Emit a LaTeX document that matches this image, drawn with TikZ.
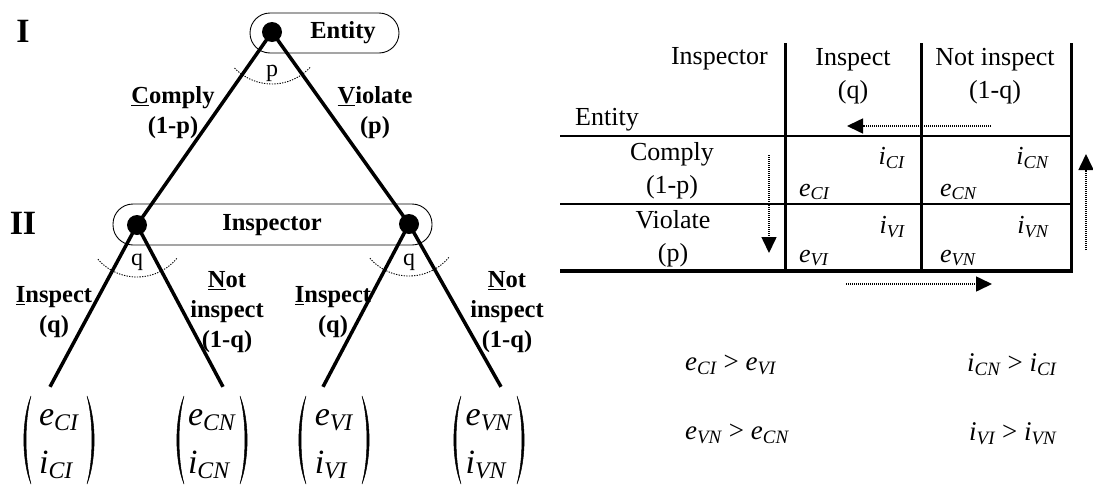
\documentclass[tikz,border=0pt]{standalone}
\usepackage{fontspec}
\setmainfont{Liberation Serif}
\usepackage{graphicx}
\usetikzlibrary{arrows.meta}
\newcommand\vv[2]{\textit{#1}\raisebox{-0.3ex}{\scalebox{0.7}{\textit{#2}}}}
\newcommand\leafparens[1]{%
  \filldraw[line width=0.5] ([shift={(-28,-44)}]#1.center)
    .. controls ([shift={(-37.5,-20)}]#1.center) and ([shift={(-37.5,20)}]#1.center) .. ([shift={(-28,44)}]#1.center)
    .. controls ([shift={(-34.6,20)}]#1.center) and ([shift={(-34.6,-20)}]#1.center) .. ([shift={(-28,-44)}]#1.center) -- cycle;
  \filldraw[line width=0.5] ([shift={(28,-44)}]#1.center)
    .. controls ([shift={(37.5,-20)}]#1.center) and ([shift={(37.5,20)}]#1.center) .. ([shift={(28,44)}]#1.center)
    .. controls ([shift={(34.6,20)}]#1.center) and ([shift={(34.6,-20)}]#1.center) .. ([shift={(28,-44)}]#1.center) -- cycle;}
\begin{document}
\begin{tikzpicture}[x=1pt,y=-1pt,
  bl/.style={font=\fontsize{24.5}{30}\selectfont\bfseries, inner sep=0, align=center},
  rg/.style={font=\fontsize{26}{33}\selectfont, inner sep=0, align=center},
  sm/.style={font=\fontsize{24}{28}\selectfont, inner sep=0},
  it/.style={font=\fontsize{26}{30}\selectfont, inner sep=0},
  ineq/.style={font=\fontsize{27}{30}\selectfont, inner sep=0, anchor=west},
  lvl/.style={font=\fontsize{34}{38}\selectfont\bfseries, inner sep=0},
  dotn/.style={circle, fill, inner sep=0, minimum size=20},
  branch/.style={line width=3.5},
  arcsty/.style={line width=0.9, dash pattern=on 1.3 off 1.3},
  pbox/.style={draw, rounded corners=20, line width=0.9, inner sep=0},
  leaf/.style={inner sep=0, minimum width=60, minimum height=106, font=\fontsize{34}{48}\selectfont},
  tline/.style={line width=2.5},
  tthick/.style={line width=3},
  darrow/.style={line width=1.6, dash pattern=on 1 off 1, -{Triangle[length=16,width=15]}}
]
\useasboundingbox (0,0) rectangle (1093,485);

% ---------- game tree ----------
\node[pbox, minimum width=149, minimum height=40] (entBox) at (324.5,33) {};
\node[pbox, minimum width=319, minimum height=41] (insBox) at (272.5,224.5) {};
\node[bl] (entLbl) at (343,33) {Entity};
\node[bl] (insLbl) at (272,225) {Inspector};
\node[lvl] (lvlI) at (23,31) {I};
\node[lvl] (lvlII) at (23,223) {II};

\coordinate (eC) at (272,32);
\coordinate (cC) at (137,225);
\coordinate (vC) at (409,224);

\node[leaf] (leaf1) at (59,440) {\begin{tabular}{@{}l@{}}\vv{e}{CI}\\\vv{i}{CI}\end{tabular}};
\node[leaf] (leaf2) at (212,440) {\begin{tabular}{@{}l@{}}\vv{e}{CN}\\\vv{i}{CN}\end{tabular}};
\node[leaf] (leaf3) at (334,440) {\begin{tabular}{@{}l@{}}\vv{e}{VI}\\\vv{i}{VI}\end{tabular}};
\node[leaf] (leaf4) at (489,440) {\begin{tabular}{@{}l@{}}\vv{e}{VN}\\\vv{i}{VN}\end{tabular}};
\leafparens{leaf1}
\leafparens{leaf2}
\leafparens{leaf3}
\leafparens{leaf4}

\draw[branch] (eC) -- (cC);
\draw[branch] (eC) -- (vC);
\draw[branch] (cC) -- ([xshift=-9]leaf1.north);
\draw[branch] (cC) -- ([xshift=11]leaf2.north);
\draw[branch] (vC) -- ([xshift=-11]leaf3.north);
\draw[branch] (vC) -- ([xshift=12]leaf4.north);

\draw[arcsty] (eC) ++(43:52) arc[start angle=43, end angle=137, radius=52];
\draw[arcsty] (cC) ++(40:52) arc[start angle=40, end angle=140, radius=52];
\draw[arcsty] (vC) ++(40:52) arc[start angle=40, end angle=140, radius=52];

\node[dotn] (eDot) at (eC) {};
\node[dotn] (cDot) at (cC) {};
\node[dotn] (vDot) at (vC) {};

\node[sm] (pLbl) at (272,73) {p};
\node[sm] (qL) at (137,262) {q};
\node[sm] (qR) at (409,262) {q};

\node[bl] (lblC) at (173,113) {\underline{C}omply\\(1-p)};
\node[bl] (lblV) at (375,113) {\underline{V}iolate\\(p)};
\node[bl] (lblI1) at (54,312) {\underline{I}nspect\\(q)};
\node[bl] (lblN1) at (227,312) {\underline{N}ot\\inspect\\(1-q)};
\node[bl] (lblI2) at (333,312) {\underline{I}nspect\\(q)};
\node[bl] (lblN2) at (507,312) {\underline{N}ot\\inspect\\(1-q)};

% ---------- payoff table ----------
\draw[tthick] (785,43) -- (785,271);
\draw[tthick] (921,43) -- (921,271);
\draw[tthick] (1071,43) -- (1071,271);
\draw[tline] (560,136) -- (1071,136);
\draw[tline] (560,204) -- (1071,204);
\draw[line width=3.5] (560,271) -- (1072.5,271);

\node[rg, anchor=east] (tInsp) at (768,59) {Inspector};
\node[rg, anchor=west] (tEnt) at (575,120) {Entity};
\node[rg] (tIns) at (853,76) {Inspect\\(q)};
\node[rg] (tNot) at (995,76) {Not inspect\\(1-q)};
\node[rg] (tCom) at (672,171) {Comply\\(1-p)};
\node[rg] (tVio) at (673,239) {Violate\\(p)};

\node[it, anchor=east] (iCI) at (905,158) {\vv{i}{CI}};
\node[it, anchor=west] (eCI) at (799,192) {\vv{e}{CI}};
\node[it, anchor=east] (iCN) at (1049,158) {\vv{i}{CN}};
\node[it, anchor=west] (eCN) at (940,192) {\vv{e}{CN}};
\node[it, anchor=east] (iVI) at (905,227) {\vv{i}{VI}};
\node[it, anchor=west] (eVI) at (799,258) {\vv{e}{VI}};
\node[it, anchor=east] (iVN) at (1049,227) {\vv{i}{VN}};
\node[it, anchor=west] (eVN) at (940,258) {\vv{e}{VN}};

\coordinate (dS) at (769,155);
\coordinate (dE) at (769,253);
\coordinate (lS) at (991,126);
\coordinate (lE) at (847,126);
\coordinate (rS) at (846,284);
\coordinate (rE) at (992,284);
\coordinate (uS) at (1086,250);
\coordinate (uE) at (1086,154);
\draw[darrow] (dS) -- (dE);
\draw[darrow] (lS) -- (lE);
\draw[darrow] (rS) -- (rE);
\draw[darrow] (uS) -- (uE);

% ---------- inequalities ----------
\node[ineq] (q1) at (685,365) {\vv{e}{CI} > \vv{e}{VI}};
\node[ineq] (q2) at (967,365) {\vv{i}{CN} > \vv{i}{CI}};
\node[ineq] (q3) at (685,434) {\vv{e}{VN} > \vv{e}{CN}};
\node[ineq] (q4) at (969,434) {\vv{i}{VI} > \vv{i}{VN}};
\end{tikzpicture}
\end{document}
